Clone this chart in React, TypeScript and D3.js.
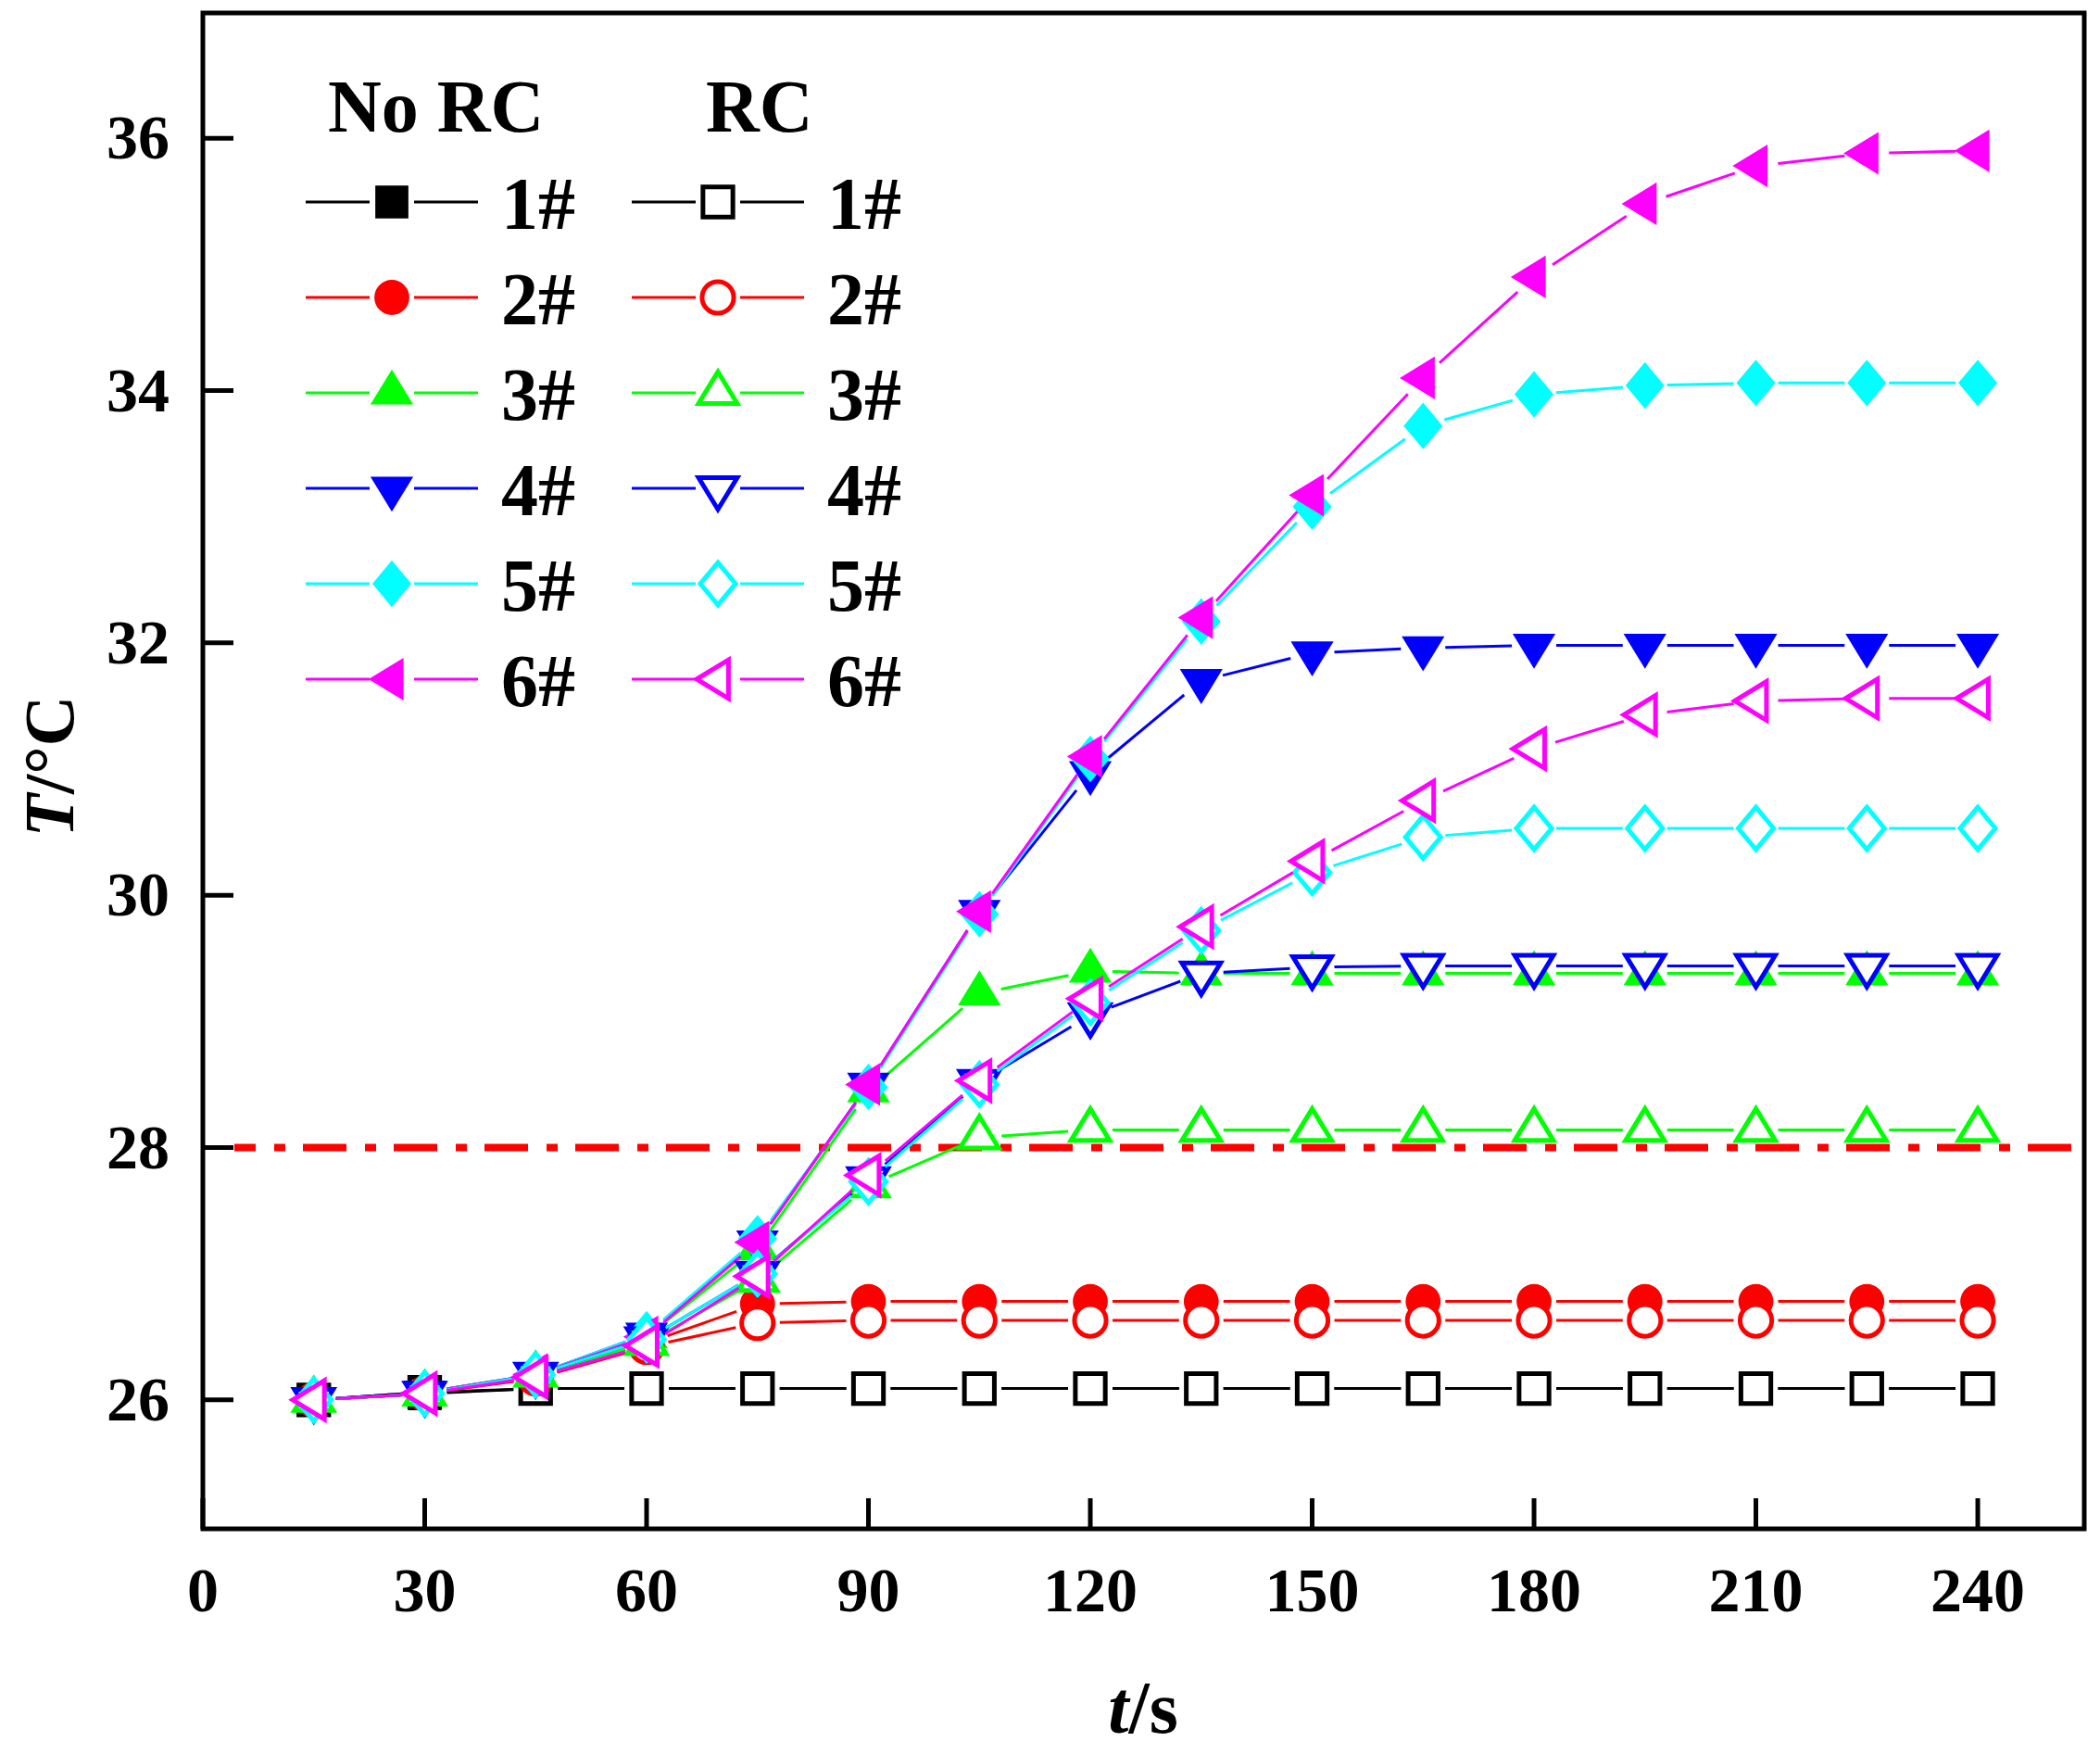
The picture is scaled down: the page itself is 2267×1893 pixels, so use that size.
import React from 'react'
import * as d3 from 'd3'

// time axis (s)
const times = [15, 30, 45, 60, 75, 90, 105, 120, 135, 150, 165, 180, 195, 210, 225, 240]

// No RC
const noRC1 = [26.0, 26.05, 26.09, 26.09, 26.09, 26.09, 26.09, 26.09, 26.09, 26.09, 26.09, 26.09, 26.09, 26.09, 26.09, 26.09]
const noRC2 = [26.0, 26.05, 26.18, 26.45, 26.76, 26.78, 26.78, 26.78, 26.78, 26.78, 26.78, 26.78, 26.78, 26.78, 26.78, 26.78]
const noRC3 = [26.0, 26.06, 26.2, 26.5, 27.2, 28.45, 29.22, 29.4, 29.38, 29.38, 29.38, 29.38, 29.38, 29.38, 29.38, 29.38]
const noRC4 = [26.0, 26.06, 26.2, 26.52, 27.25, 28.5, 29.87, 30.97, 31.7, 31.92, 31.96, 31.98, 31.98, 31.98, 31.98, 31.98]
const noRC5 = [26.0, 26.06, 26.2, 26.52, 27.28, 28.48, 29.85, 31.08, 32.17, 33.08, 33.72, 33.97, 34.04, 34.06, 34.06, 34.06]
const noRC6 = [26.0, 26.06, 26.2, 26.5, 27.25, 28.5, 29.87, 31.1, 32.2, 33.17, 34.1, 34.9, 35.48, 35.78, 35.88, 35.9]

// RC
const rc1 = [26.0, 26.06, 26.09, 26.09, 26.09, 26.09, 26.09, 26.09, 26.09, 26.09, 26.09, 26.09, 26.09, 26.09, 26.09, 26.09]
const rc2 = [26.0, 26.05, 26.17, 26.42, 26.61, 26.63, 26.63, 26.63, 26.63, 26.63, 26.63, 26.63, 26.63, 26.63, 26.63, 26.63]
const rc3 = [26.0, 26.05, 26.2, 26.45, 26.95, 27.7, 28.08, 28.14, 28.14, 28.14, 28.14, 28.14, 28.14, 28.14, 28.14, 28.14]
const rc4 = [26.0, 26.05, 26.2, 26.48, 27.0, 27.75, 28.52, 29.05, 29.38, 29.43, 29.44, 29.44, 29.44, 29.44, 29.44, 29.44]
const rc5 = [26.0, 26.05, 26.2, 26.48, 27.0, 27.73, 28.5, 29.15, 29.72, 30.18, 30.46, 30.53, 30.53, 30.53, 30.53, 30.53]
const rc6 = [26.0, 26.05, 26.18, 26.43, 26.98, 27.78, 28.53, 29.18, 29.75, 30.27, 30.75, 31.16, 31.43, 31.54, 31.56, 31.56]

const labels = ['1#', '2#', '3#', '4#', '5#', '6#']
const colors = ['#000000', '#ff0000', '#00ff00', '#0000ff', '#00ffff', '#ff00ff']
const limitT = 28

const xTicks = [0, 30, 60, 90, 120, 150, 180, 210, 240]
const yTicks = [26, 28, 30, 32, 34, 36]

// custom marker shapes (size = half size in px)
const square = { draw: (c, r) => { c.rect(-r * 0.85, -r * 0.85, r * 1.7, r * 1.7) } }
const circle = { draw: (c, r) => { c.moveTo(r * 0.9, 0); c.arc(0, 0, r * 0.9, 0, Math.PI * 2) } }
const triUp = { draw: (c, r) => { c.moveTo(0, -1.2 * r); c.lineTo(1.1 * r, 0.6 * r); c.lineTo(-1.1 * r, 0.6 * r); c.closePath() } }
const triDown = { draw: (c, r) => { c.moveTo(0, 1.2 * r); c.lineTo(1.1 * r, -0.6 * r); c.lineTo(-1.1 * r, -0.6 * r); c.closePath() } }
const diamond = { draw: (c, r) => { c.moveTo(0, -1.2 * r); c.lineTo(r, 0); c.lineTo(0, 1.2 * r); c.lineTo(-r, 0); c.closePath() } }
const triLeft = { draw: (c, r) => { c.moveTo(-1.2 * r, 0); c.lineTo(0.6 * r, -1.1 * r); c.lineTo(0.6 * r, 1.1 * r); c.closePath() } }
const shapes = [square, circle, triUp, triDown, diamond, triLeft]

const noRC = [noRC1, noRC2, noRC3, noRC4, noRC5, noRC6]
const rc = [rc1, rc2, rc3, rc4, rc5, rc6]

const W = 2267
const H = 1893
const x = d3.scaleLinear().domain([0, 254.4]).range([219, 2250])
const y = d3.scaleLinear().domain([25, 37]).range([1647, 13])

const font = '"Liberation Serif", "Times New Roman", serif'
const line = d3.line()

// line pieces that stop short of the markers, like Origin does
const segments = (pts, gap) => {
  const out = []
  for (let i = 1; i < pts.length; i++) {
    const [x0, y0] = pts[i - 1]
    const [x1, y1] = pts[i]
    const len = Math.hypot(x1 - x0, y1 - y0)
    if (len <= gap * 2) continue
    const ux = (x1 - x0) / len
    const uy = (y1 - y0) / len
    out.push([[x0 + ux * gap, y0 + uy * gap], [x1 - ux * gap, y1 - uy * gap]])
  }
  return out
}

const Series = ({ values, i, open }) => {
  const pts = values.map((v, k) => [x(times[k]), y(v)])
  const sym = d3.symbol().type(shapes[i]).size(open ? 19 : 21)
  return (
    <g>
      {segments(pts, 24).map((s, k) => (
        <path key={k} d={line(s)} stroke={colors[i]} strokeWidth={3} fill="none" />
      ))}
      {pts.map((p, k) => (
        <path
          key={'m' + k}
          d={sym()}
          transform={`translate(${p[0]},${p[1]})`}
          fill={open ? '#ffffff' : colors[i]}
          stroke={open ? colors[i] : 'none'}
          strokeWidth={open ? 5 : 0}
        />
      ))}
    </g>
  )
}

const LegendItem = ({ i, open, x0, yy }) => {
  const sym = d3.symbol().type(shapes[i]).size(open ? 19 : 21)
  const mx = x0 + 93
  return (
    <g>
      <path d={line([[x0, yy], [mx - 24, yy]])} stroke={colors[i]} strokeWidth={3} />
      <path d={line([[mx + 24, yy], [x0 + 186, yy]])} stroke={colors[i]} strokeWidth={3} />
      <path
        d={sym()}
        transform={`translate(${mx},${yy})`}
        fill={open ? '#ffffff' : colors[i]}
        stroke={open ? colors[i] : 'none'}
        strokeWidth={open ? 5 : 0}
      />
      <text x={x0 + 211} y={yy + 29} fontFamily={font} fontWeight="bold" fontSize={80}>
        {labels[i]}
      </text>
    </g>
  )
}

export default function App() {
  const legendRows = labels.map((_, i) => 218 + i * 103)
  return (
    <svg
      width={W}
      height={H}
      style={{ position: 'absolute', left: 0, top: 0, background: '#fff' }}
    >
      <rect x={0} y={0} width={W} height={H} fill="#ffffff" />

      {/* 28 °C limit */}
      <line
        x1={253}
        x2={2238}
        y1={y(limitT)}
        y2={y(limitT)}
        stroke="#ff0000"
        strokeWidth={8}
        strokeDasharray="47 20 12 19"
        strokeDashoffset={24}
      />

      {noRC.map((s, i) => (
        <Series key={'n' + i} values={s} i={i} open={false} />
      ))}
      {rc.map((s, i) => (
        <Series key={'r' + i} values={s} i={i} open={true} />
      ))}

      {/* frame */}
      <rect x={219} y={14} width={2250 - 219} height={1650 - 14} fill="none" stroke="#000" strokeWidth={5} />

      {xTicks.map((t) => (
        <g key={'xt' + t}>
          <line x1={x(t)} x2={x(t)} y1={1650} y2={1617} stroke="#000" strokeWidth={5} />
          <text
            x={x(t)}
            y={1739}
            textAnchor="middle"
            fontFamily={font}
            fontWeight="bold"
            fontSize={68}
          >
            {t}
          </text>
        </g>
      ))}
      {yTicks.map((t) => (
        <g key={'yt' + t}>
          <line x1={219} x2={252} y1={y(t)} y2={y(t)} stroke="#000" strokeWidth={5} />
          <text
            x={183}
            y={y(t) + 22}
            textAnchor="end"
            fontFamily={font}
            fontWeight="bold"
            fontSize={68}
          >
            {t}
          </text>
        </g>
      ))}

      {/* axis titles */}
      <text
        transform="translate(79,827) rotate(-90)"
        textAnchor="middle"
        fontFamily={font}
        fontWeight="bold"
        fontSize={76}
      >
        <tspan fontStyle="italic">T</tspan>/°C
      </text>
      <text x={1234} y={1870} textAnchor="middle" fontFamily={font} fontWeight="bold" fontSize={80}>
        <tspan fontStyle="italic">t</tspan>/s
      </text>

      {/* legend */}
      <text x={354} y={142} fontFamily={font} fontWeight="bold" fontSize={80}>
        No RC
      </text>
      <text x={762} y={142} fontFamily={font} fontWeight="bold" fontSize={80}>
        RC
      </text>
      {legendRows.map((yy, i) => (
        <g key={'lg' + i}>
          <LegendItem i={i} open={false} x0={330} yy={yy} />
          <LegendItem i={i} open={true} x0={682} yy={yy} />
        </g>
      ))}
    </svg>
  )
}
